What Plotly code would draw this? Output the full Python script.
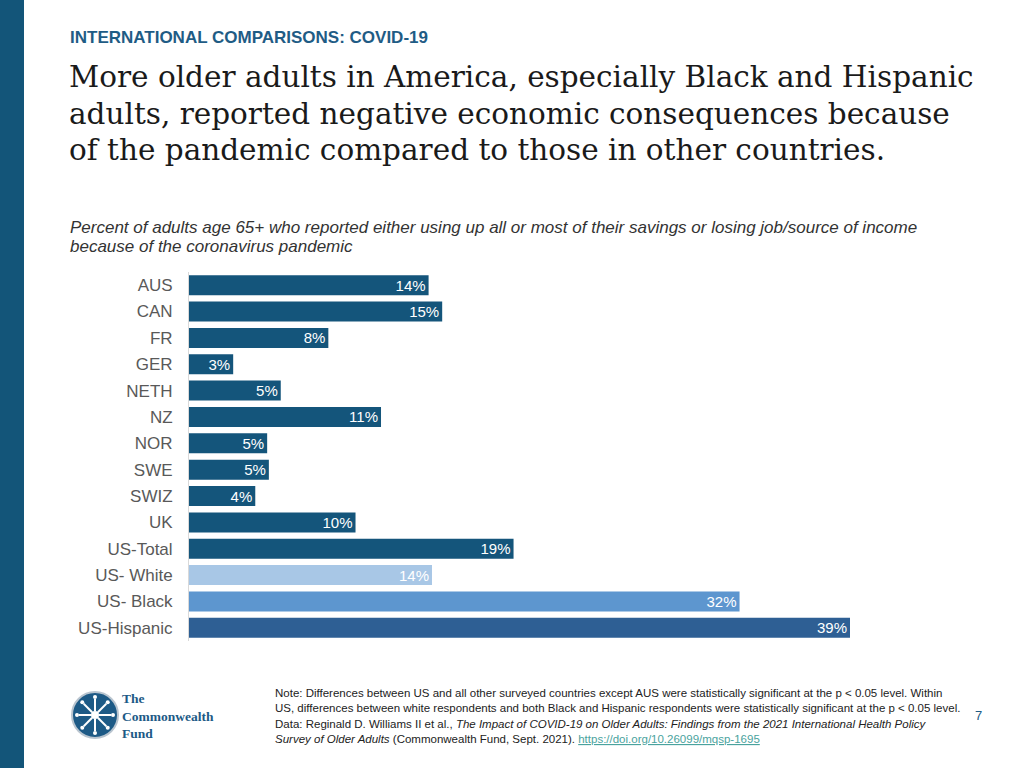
import plotly.graph_objects as go
import math

categories = ["AUS", "CAN", "FR", "GER", "NETH", "NZ", "NOR", "SWE", "SWIZ", "UK",
              "US-Total", "US- White", "US- Black", "US-Hispanic"]
values = [14.1, 14.9, 8.2, 2.6, 5.4, 11.3, 4.6, 4.7, 3.9, 9.8, 19.1, 14.3, 32.4, 38.9]
labels = ["14%", "15%", "8%", "3%", "5%", "11%", "5%", "5%", "4%", "10%",
          "19%", "14%", "32%", "39%"]
DARK = "#14557b"
colors = [DARK] * 11 + ["#a8c7e6", "#5d96cf", "#2e5f94"]

W, H = 1024, 768
def px(x): return x / W
def py(y): return 1 - y / H

fig = go.Figure()
fig.add_trace(go.Bar(
    y=categories, x=values, orientation="h",
    marker=dict(color=colors, line=dict(width=0)),
    text=labels, textposition="inside", insidetextanchor="end", constraintext="none",
    textfont=dict(family="Arial, Liberation Sans", size=15, color="white"),
    hoverinfo="skip", showlegend=False,
))

fig.update_layout(
    width=W, height=H, margin=dict(l=0, r=0, t=0, b=0),
    paper_bgcolor="white", plot_bgcolor="white",
    bargap=0.24,
    xaxis=dict(domain=[px(189), px(850)], range=[0, 38.9], visible=False),
    yaxis=dict(domain=[py(641), py(272)], autorange="reversed",
               showline=True, linecolor="#d9d9d9", linewidth=1,
               ticks="", ticklabelstandoff=12,
               tickfont=dict(family="Arial, Liberation Sans", size=17, color="#595959")),
    font=dict(family="Arial, Liberation Sans"),
)

shapes = []
# left stripe
shapes.append(dict(type="rect", xref="paper", yref="paper", x0=0, x1=px(24), y0=0, y1=1,
                   fillcolor="#135579", line=dict(width=0), layer="below"))
# logo
cx, cy, r = 95, 715, 23
shapes.append(dict(type="circle", xref="paper", yref="paper",
                   x0=px(cx - r), x1=px(cx + r), y0=py(cy + r), y1=py(cy - r),
                   fillcolor="#1d5a86", line=dict(color="#b8c4cf", width=2)))
for k in range(8):
    a = k * math.pi / 4
    shapes.append(dict(type="line", xref="paper", yref="paper",
                       x0=px(cx + 4 * math.cos(a)), y0=py(cy + 4 * math.sin(a)),
                       x1=px(cx + 16 * math.cos(a)), y1=py(cy + 16 * math.sin(a)),
                       line=dict(color="white", width=2)))
    shapes.append(dict(type="circle", xref="paper", yref="paper",
                       x0=px(cx + 18 * math.cos(a) - 2), x1=px(cx + 18 * math.cos(a) + 2),
                       y0=py(cy + 18 * math.sin(a) + 2), y1=py(cy + 18 * math.sin(a) - 2),
                       fillcolor="white", line=dict(width=0)))
shapes.append(dict(type="circle", xref="paper", yref="paper",
                   x0=px(cx - 4), x1=px(cx + 4), y0=py(cy + 4), y1=py(cy - 4),
                   fillcolor="white", line=dict(width=0)))
fig.update_layout(shapes=shapes)

ann = []
def text(x, y, s, size, color, family="Arial, Liberation Sans", xanchor="left", yanchor="middle"):
    ann.append(dict(x=px(x), y=py(y), xref="paper", yref="paper", text=s, showarrow=False,
                    xanchor=xanchor, yanchor=yanchor, align="left", borderpad=0,
                    font=dict(size=size, color=color, family=family)))

text(69, 38, "<b>INTERNATIONAL COMPARISONS: COVID-19</b>", 17, "#1f5c85")
SERIF = "DejaVu Serif, Liberation Serif, serif"
title_lines = ["More older adults in America, especially Black and Hispanic",
               "adults, reported negative economic consequences because",
               "of the pandemic compared to those in other countries."]
for i, t in enumerate(title_lines):
    text(68, 77 + i * 36.5, t, 29.5, "#1a1a1a", family=SERIF)

text(69, 227, "<i>Percent of adults age 65+ who reported either using up all or most of their savings or losing job/source of income</i>", 17, "#333333")
text(69, 247, "<i>because of the coronavirus pandemic</i>", 17, "#333333")

NOTE = "#222222"
text(274, 693, "Note: Differences between US and all other surveyed countries except AUS were statistically significant at the p &lt; 0.05 level. Within", 11.5, NOTE)
text(274, 708, "US, differences between white respondents and both Black and Hispanic respondents were statistically significant at the p &lt; 0.05 level.", 11.5, NOTE)
text(274, 724, "Data: Reginald D. Williams II et al., <i>The Impact of COVID-19 on Older Adults: Findings from the 2021 International Health Policy</i>", 11.5, NOTE)
text(274, 739, "<i>Survey of Older Adults</i> (Commonwealth Fund, Sept. 2021). <span style='color:#4aa39e'><u>https://doi.org/10.26099/mqsp-1695</u></span>", 11.5, NOTE)
text(978, 715, "7", 13, "#1f5c85", xanchor="center")

LOGO = "#1d5a86"
LOGOFONT = "Liberation Serif, serif"
text(121, 716, "<b>The<br>Commonwealth<br>Fund</b>", 13.5, LOGO, family=LOGOFONT)

fig.update_layout(annotations=ann)
fig.write_html("out.html", config={"displayModeBar": False},
               post_script="document.body.style.margin='0';")
